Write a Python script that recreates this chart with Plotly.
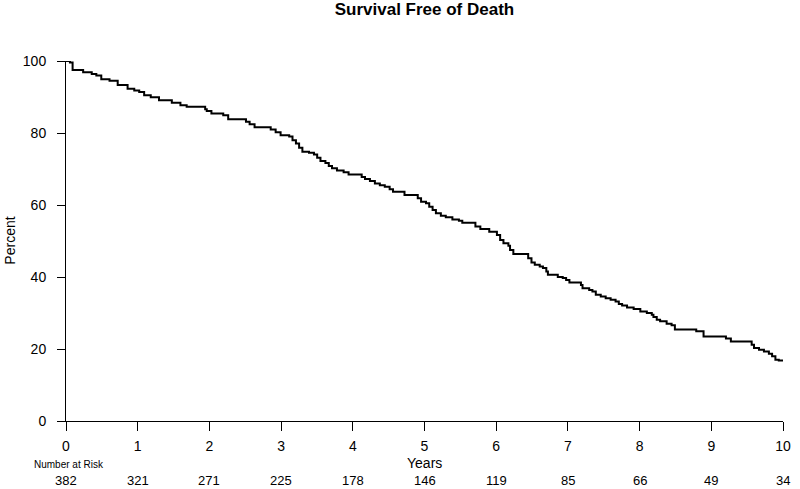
import plotly.graph_objects as go

# Kaplan-Meier step estimates (years, percent surviving)
times = [0.0, 0.055, 0.092, 0.239, 0.359, 0.423, 0.492, 0.607, 0.721, 0.859, 0.952,
         1.021, 1.090, 1.182, 1.297, 1.476, 1.596, 1.683, 1.941, 1.963,
         2.028, 2.193, 2.262, 2.510, 2.561, 2.630, 2.855, 2.924, 2.993,
         3.113, 3.159, 3.207, 3.251, 3.297, 3.389, 3.458, 3.503, 3.549, 3.618,
         3.665, 3.710, 3.779, 3.872, 3.941,
         4.124, 4.170, 4.239, 4.308, 4.377, 4.446, 4.514, 4.561, 4.721, 4.906, 4.952,
         5.021, 5.066, 5.113, 5.159, 5.228, 5.297, 5.389, 5.480, 5.527, 5.710, 5.779, 5.903,
         6.010, 6.055, 6.101, 6.170, 6.193, 6.239, 6.446, 6.492, 6.538, 6.607, 6.652,
         6.699, 6.721, 6.859, 6.928, 6.975,
         7.021, 7.182, 7.204, 7.297, 7.342, 7.389, 7.458, 7.527, 7.596, 7.665, 7.710,
         7.756, 7.825, 7.917,
         8.010, 8.101, 8.170, 8.193, 8.239, 8.286, 8.377, 8.446, 8.492, 8.790, 8.892,
         9.204, 9.273, 9.563, 9.596, 9.665, 9.734, 9.803, 9.848, 9.894, 9.941, 10.0]
survival = [100.0, 99.6, 97.5, 96.9, 96.4, 96.0, 94.9, 94.5, 93.3, 92.3, 91.8,
            91.4, 90.5, 89.9, 89.1, 88.4, 87.7, 87.3, 86.6, 86.1,
            85.4, 84.9, 83.8, 83.1, 82.4, 81.6, 81.0, 80.2, 79.4,
            79.0, 78.0, 77.1, 75.9, 74.8, 74.5, 74.0, 73.1, 72.2, 71.7,
            70.8, 70.2, 69.6, 69.1, 68.5,
            67.8, 67.2, 66.7, 66.0, 65.5, 65.1, 64.4, 63.7, 62.8, 61.9, 60.9,
            60.5, 59.5, 58.6, 57.7, 57.0, 56.6, 56.0, 55.6, 55.1, 54.0, 53.3, 52.6,
            51.7, 50.3, 49.4, 48.7, 47.5, 46.4, 45.2, 44.0, 43.4, 42.9, 42.5,
            41.5, 40.6, 40.0, 39.7, 39.2,
            38.5, 37.8, 36.9, 36.4, 36.0, 35.1, 34.6, 34.1, 33.7, 33.2, 32.5,
            32.1, 31.5, 31.1,
            30.4, 30.0, 29.5, 28.9, 28.1, 27.7, 27.0, 26.6, 25.4, 24.9, 23.5,
            22.9, 22.1, 21.2, 20.3, 19.8, 19.3, 18.7, 18.0, 17.0, 16.8, 16.8]

risk_years = [0, 1, 2, 3, 4, 5, 6, 7, 8, 9, 10]
number_at_risk = [382, 321, 271, 225, 178, 146, 119, 85, 66, 49, 34]

FONT = "Liberation Sans, Arial, Helvetica, sans-serif"
PLOT_H = 360.5

fig = go.Figure()
fig.add_trace(go.Scatter(
    x=times, y=survival, mode="lines", line=dict(color="black", width=2, shape="hv"),
    cliponaxis=False, showlegend=False, hoverinfo="x+y"))

annotations = []
for yr, n in zip(risk_years, number_at_risk):
    annotations.append(dict(x=yr, y=-59.5 / PLOT_H, xref="x", yref="paper",
                            text=str(n), showarrow=False, xanchor="center", yanchor="middle",
                            font=dict(size=13, color="black", family=FONT)))
annotations.append(dict(x=-34 / 725, y=-44 / PLOT_H, xref="paper", yref="paper",
                        text="Number at Risk", showarrow=False, xanchor="left", yanchor="middle",
                        font=dict(size=10, color="black", family=FONT)))
annotations.append(dict(x=0.5, y=-42.5 / PLOT_H, xref="paper", yref="paper",
                        text="Years", showarrow=False, xanchor="center", yanchor="middle",
                        font=dict(size=14, color="black", family=FONT)))
annotations.append(dict(x=-57 / 725, y=0.5, xref="paper", yref="paper",
                        text="Percent", showarrow=False, xanchor="center", yanchor="middle",
                        textangle=-90, font=dict(size=14, color="black", family=FONT)))

fig.update_layout(
    width=800, height=489,
    margin=dict(l=66, r=9, t=61, b=67.5, pad=0),
    paper_bgcolor="white", plot_bgcolor="white",
    font=dict(family=FONT, color="black", size=14),
    title=dict(text="<b>Survival Free of Death</b>", x=0.5, xref="paper",
               y=1 - 9.5 / 489, yref="container", yanchor="middle",
               font=dict(size=17, family=FONT, color="black")),
    xaxis=dict(range=[0, 10], tickmode="array", tickvals=risk_years,
               showline=True, linecolor="black", linewidth=1,
               ticks="outside", ticklen=9, tickcolor="black", tickwidth=1,
               showgrid=False, zeroline=False, fixedrange=True,
               tickfont=dict(size=14, family=FONT, color="black"),
               ticklabelstandoff=3),
    yaxis=dict(range=[0, 100], tickmode="array", tickvals=[0, 20, 40, 60, 80, 100],
               showline=True, linecolor="black", linewidth=1,
               ticks="outside", ticklen=8, tickcolor="black", tickwidth=1,
               showgrid=False, zeroline=False, fixedrange=True,
               tickfont=dict(size=14, family=FONT, color="black"),
               ticklabelstandoff=8),
    annotations=annotations,
)

fig.write_html(
    "out.html",
    config={"displayModeBar": False},
    post_script="document.body.style.margin='0';document.body.style.overflow='hidden';",
)
